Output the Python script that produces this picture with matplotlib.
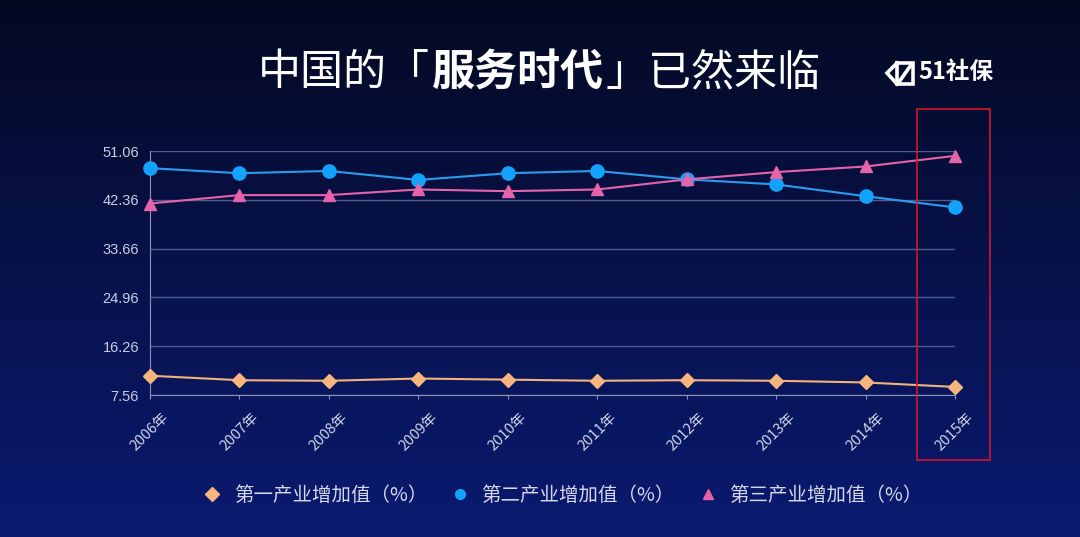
import matplotlib
matplotlib.use('Agg')
import matplotlib.pyplot as plt
import numpy as np
from matplotlib.patches import Rectangle
from matplotlib.lines import Line2D

plt.rcParams['font.family'] = ['Noto Sans CJK SC', 'DejaVu Sans']

years = ['2006年', '2007年', '2008年', '2009年', '2010年',
         '2011年', '2012年', '2013年', '2014年', '2015年']
primary = [11.0, 10.2, 10.1, 10.5, 10.3, 10.1, 10.2, 10.1, 9.8, 9.0]
secondary = [48.0, 47.1, 47.5, 45.9, 47.1, 47.5, 46.0, 45.1, 43.0, 41.0]
tertiary = [41.7, 43.2, 43.2, 44.2, 43.9, 44.2, 46.0, 47.3, 48.3, 50.2]
yticks = [7.56, 16.26, 24.96, 33.66, 42.36, 51.06]
labels = ['第一产业增加值（%）', '第二产业增加值（%）', '第三产业增加值（%）']

fig = plt.figure(figsize=(10.8, 5.37), dpi=100)

# 背景渐变
bg = fig.add_axes([0, 0, 1, 1], zorder=-10)
grad = np.linspace(0, 1, 256).reshape(-1, 1)
top = np.array([4, 9, 32]) / 255
bot = np.array([10, 26, 112]) / 255
img = top + (bot - top) * grad[..., None] ** 0.9
bg.imshow(img, aspect='auto', extent=[0, 1, 0, 1], origin='upper')
bg.axis('off')

ax = fig.add_axes([0.1389, 0.2644, 0.7454, 0.4544])
ax.set_facecolor('none')
x = np.arange(len(years))

ax.plot(x, primary, color='#f2b27a', lw=1.5, marker='D', ms=7, mfc='#f5b57c',
        mec='#f5b57c', clip_on=False, zorder=5, label=labels[0])
ax.plot(x, secondary, color='#2a9cf0', lw=1.5, marker='o', ms=9.5, mfc='#14a2ff',
        mec='#14a2ff', clip_on=False, zorder=5, label=labels[1])
ax.plot(x, tertiary, color='#e463aa', lw=1.5, marker='^', ms=8.5, mfc='#e463aa',
        mec='#e463aa', clip_on=False, zorder=5, label=labels[2])

ax.set_xlim(0, len(years) - 1)
ax.set_ylim(yticks[0], yticks[-1])
ax.set_yticks(yticks)
ax.set_yticklabels(['%.2f' % v for v in yticks], color='#c9cde0', fontsize=10.5,
                   family=['Liberation Sans', 'DejaVu Sans'])
ax.set_xticks(x)
ax.set_xticklabels(years, rotation=45, ha='center', va='top',
                   color='#d0d4e8', fontsize=10.5)
ax.tick_params(axis='y', length=0, pad=8)
ax.tick_params(axis='x', length=3, color='#8a93b8', pad=8)
ax.grid(axis='y', color='#4f5d8c', lw=1)
for s in ['top', 'right']:
    ax.spines[s].set_visible(False)
ax.spines['left'].set_color('#8a93b8')
ax.spines['bottom'].set_color('#8a93b8')

# 标题
ty = 1 - 73 / 537
fig.text(258 / 1080, ty, '中国的「', fontsize=31, color='white', va='center', ha='left')
fig.text(432 / 1080, ty, '服务时代', fontsize=31, color='white', va='center', ha='left',
         fontweight='bold')
fig.text(606 / 1080, ty, '」已然来临', fontsize=31, color='white', va='center', ha='left')

# logo 图标
def px(xs, ys):
    return [v / 1080 for v in xs], [1 - v / 537 for v in ys]

for xs, ys in [([897, 887, 897], [63, 73, 84]),
               ([897, 913, 913, 897, 897], [63, 63, 84, 84, 63]),
               ([899, 911], [82, 65])]:
    lx, ly = px(xs, ys)
    fig.add_artist(Line2D(lx, ly, color='white', lw=2.6, solid_joinstyle='miter'))
fig.text(918 / 1080, 1 - 72 / 537, '51社保', fontsize=17, color='white', va='center',
         ha='left', fontweight='bold')

# 红框
fig.patches.append(Rectangle((917 / 1080, 1 - 460 / 537), 73 / 1080, 351 / 537,
                             transform=fig.transFigure, fill=False,
                             edgecolor='#d0162e', lw=1.2))

leg = fig.legend(loc='center', bbox_to_anchor=(0.521, 1 - 495 / 537), ncol=3,
                 frameon=False, fontsize=14, handlelength=1.0, columnspacing=1.2,
                 handletextpad=0.6)
for t in leg.get_texts():
    t.set_color('#d4d8ea')
for h in leg.legend_handles:
    h.set_linestyle('none')
    h.set_markersize(7)

fig.savefig('out.png', dpi=100)
